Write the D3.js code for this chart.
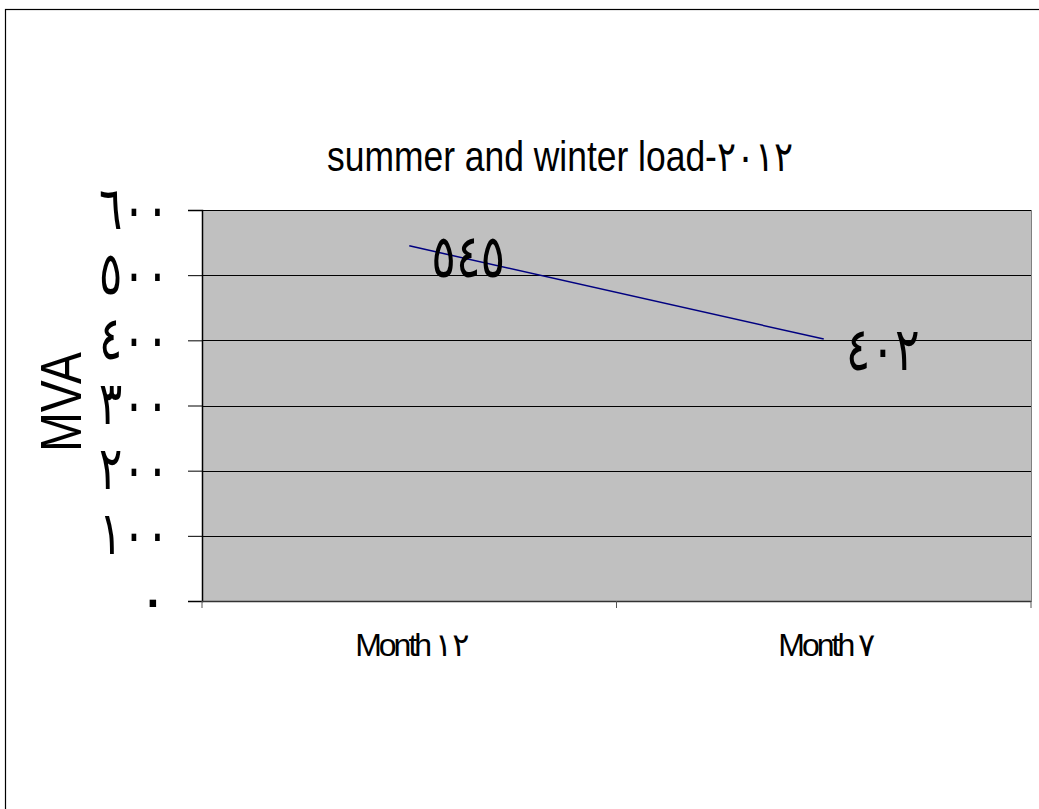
<!DOCTYPE html>
<html>
<head>
<meta charset="utf-8">
<script src="https://cdn.jsdelivr.net/npm/d3@7"></script>
<style>
  body { margin: 0; background: #fff; }
  svg { display: block; }
  text { font-family: "Liberation Sans", Arial, "DejaVu Sans", sans-serif; fill: #000; }
</style>
</head>
<body>
<svg id="chart"></svg>
<script>
const categories = ['Month ١٢', 'Month ٧'];
const values = [545, 402];
const valueLabels = ['٥٤٥', '٤٠٢'];
const yTicks = [0, 100, 200, 300, 400, 500, 600];
const yTickLabels = ['٠', '١٠٠', '٢٠٠', '٣٠٠', '٤٠٠', '٥٠٠', '٦٠٠'];
const title = 'summer and winter load-٢٠١٢';
const yTitle = 'MVA';

const width = 1039;
const height = 809;
const plot = { left: 202, right: 1031, top: 210, bottom: 601 };

const svg = d3.select('#chart')
    .attr('width', width)
    .attr('height', height);

// outer frame, runs off the right and bottom edges
svg.append('rect')
    .attr('x', 5.5)
    .attr('y', 9.5)
    .attr('width', 1100)
    .attr('height', 900)
    .attr('fill', 'none')
    .attr('stroke', '#000')
    .attr('stroke-width', 1.2);

const x = d3.scaleBand()
    .domain(categories)
    .range([plot.left, plot.right])
    .padding(0);

const y = d3.scaleLinear()
    .domain([0, 600])
    .range([plot.bottom, plot.top]);

// plot area
svg.append('rect')
    .attr('x', plot.left)
    .attr('y', plot.top)
    .attr('width', plot.right - plot.left)
    .attr('height', plot.bottom - plot.top)
    .attr('fill', '#c0c0c0')
    .attr('stroke', '#808080')
    .attr('stroke-width', 1)
    .attr('shape-rendering', 'crispEdges');

// gridlines
svg.append('g')
    .selectAll('line')
    .data(yTicks.slice(1))
    .enter().append('line')
    .attr('x1', plot.left)
    .attr('x2', plot.right)
    .attr('y1', d => Math.round(y(d)) + 0.5)
    .attr('y2', d => Math.round(y(d)) + 0.5)
    .attr('stroke', '#000')
    .attr('stroke-width', 1);

// y axis
const yAxis = svg.append('g')
    .attr('transform', `translate(${plot.left},0)`)
    .call(d3.axisLeft(y)
        .tickValues(yTicks)
        .tickSize(14)
        .tickPadding(19)
        .tickFormat((d, i) => yTickLabels[i]));
yAxis.select('.domain').attr('stroke', '#000').attr('stroke-width', 1.5);
yAxis.selectAll('.tick line').attr('stroke', '#000');
yAxis.selectAll('.tick text')
    .attr('font-family', '"DejaVu Sans", sans-serif')
    .style('font-size', '60px')
    .attr('dy', '0.3em')
    .attr('textLength', (d, i) => yTickLabels[i].length > 1 ? 70 : null)
    .attr('lengthAdjust', 'spacingAndGlyphs');

// x axis
const xTickPos = [plot.left, plot.left + x.bandwidth(), plot.right];
const xAxis = svg.append('g');
xAxis.append('line')
    .attr('x1', plot.left)
    .attr('x2', plot.right)
    .attr('y1', plot.bottom + 0.5)
    .attr('y2', plot.bottom + 0.5)
    .attr('stroke', '#333')
    .attr('stroke-width', 1.5);
xAxis.selectAll('.xtick')
    .data(xTickPos)
    .enter().append('line')
    .attr('class', 'xtick')
    .attr('x1', d => d)
    .attr('x2', d => d)
    .attr('y1', plot.bottom)
    .attr('y2', plot.bottom + 7)
    .attr('stroke', '#555');
xAxis.selectAll('.xlabel')
    .data(categories)
    .enter().append('text')
    .attr('class', 'xlabel')
    .attr('x', d => x(d) + x.bandwidth() / 2 + 3)
    .attr('y', 656)
    .attr('text-anchor', 'middle')
    .style('font-size', '32px')
    .style('letter-spacing', '-3px')
    .text(d => d);

// line
const line = d3.line()
    .x((d, i) => x(categories[i]) + x.bandwidth() / 2)
    .y(d => y(d));

svg.append('path')
    .datum(values)
    .attr('d', line)
    .attr('fill', 'none')
    .attr('stroke', '#000080')
    .attr('stroke-width', 1.5);

// data labels
svg.selectAll('.vlabel')
    .data(values)
    .enter().append('text')
    .attr('class', 'vlabel')
    .attr('x', (d, i) => x(categories[i]) + x.bandwidth() / 2 + 22)
    .attr('y', d => y(d) + 31)
    .attr('font-family', '"DejaVu Sans", sans-serif')
    .style('font-size', '60px')
    .attr('textLength', 74)
    .attr('lengthAdjust', 'spacingAndGlyphs')
    .text((d, i) => valueLabels[i]);

// title
svg.append('text')
    .attr('x', 327)
    .attr('y', 171)
    .style('font-size', '42px')
    .attr('textLength', 466)
    .attr('lengthAdjust', 'spacingAndGlyphs')
    .text(title);

// y title
svg.append('text')
    .attr('transform', 'translate(81,452) rotate(-90)')
    .style('font-size', '58px')
    .attr('textLength', 100)
    .attr('lengthAdjust', 'spacingAndGlyphs')
    .text(yTitle);
</script>
</body>
</html>
